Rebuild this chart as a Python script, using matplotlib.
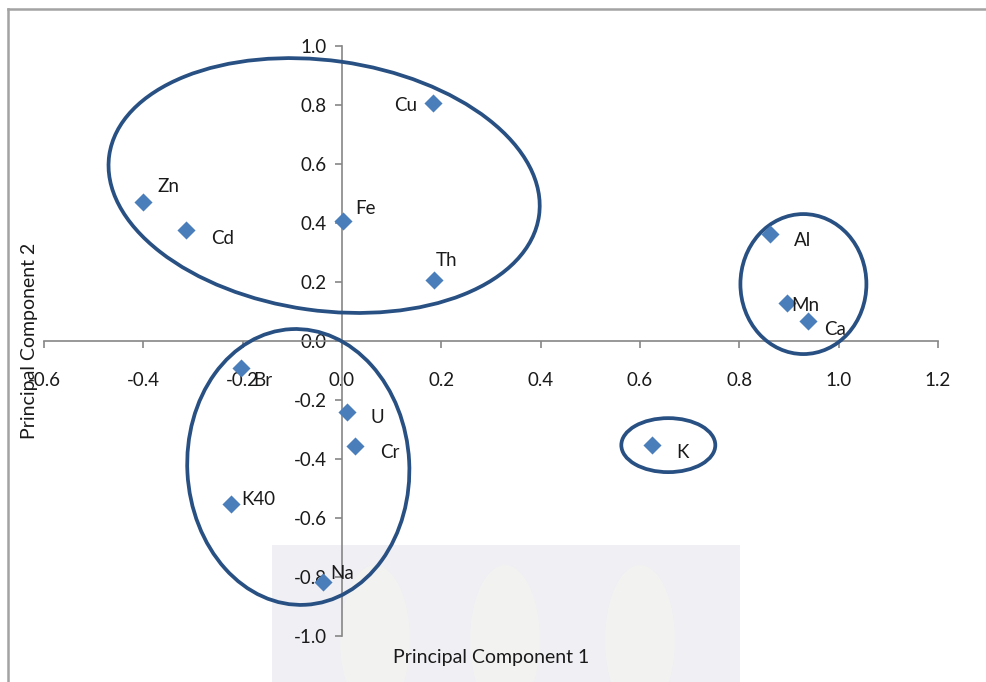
import matplotlib
matplotlib.use("Agg")
import matplotlib.pyplot as plt
from matplotlib.patches import Ellipse, Rectangle
from matplotlib.transforms import ScaledTranslation

plt.rcParams['font.family'] = ['Lato', 'DejaVu Sans']

# PCA loadings per element
elements = ["Cu", "Zn", "Cd", "Fe", "Th", "Al", "Mn", "Ca",
            "Br", "U", "Cr", "K", "K40", "Na"]
pc1 = [0.183, -0.400, -0.314, 0.002, 0.185, 0.862, 0.896, 0.939,
       -0.203, 0.010, 0.026, 0.625, -0.223, -0.038]
pc2 = [0.807, 0.471, 0.376, 0.407, 0.207, 0.363, 0.129, 0.068,
       -0.092, -0.241, -0.356, -0.353, -0.553, -0.817]

x_ticks = [-0.6, -0.4, -0.2, 0.0, 0.2, 0.4, 0.6, 0.8, 1.0, 1.2]
y_ticks = [-1.0, -0.8, -0.6, -0.4, -0.2, 0.0, 0.2, 0.4, 0.6, 0.8, 1.0]

# group outlines: centre (data units), size in inches, rotation in degrees
groups = [
    ((-0.036, 0.527), 4.34, 2.50, -8),
    ((-0.088, -0.427), 2.76, 2.22, 93),
    ((0.929, 0.193), 1.26, 1.40, 0),
    ((0.657, -0.353), 0.94, 0.54, 0),
]

# label offsets (points) from each marker
label_offsets = {
    "Cu": (-28, -2), "Zn": (10, 11), "Cd": (18, -6),
    "Fe": (9, 9), "Th": (1, 14), "Al": (17, -5),
    "Mn": (3, -2), "Ca": (11, -6), "Br": (9, -9),
    "U": (17, -4), "Cr": (18, -5), "K": (17, -5),
    "K40": (7, 3), "Na": (5, 6),
}

fig = plt.figure(figsize=(9.87, 6.82), dpi=100)
fig.patch.set_facecolor("white")

# faint backdrop in the lower middle
backdrop = Rectangle((272 / 987, 0), (740 - 272) / 987, (682 - 545) / 682,
                     transform=fig.transFigure, facecolor="#efeff4",
                     edgecolor="none", zorder=-2)
fig.add_artist(backdrop)
for cx in (375, 505, 640):
    leaf = Ellipse((cx / 987, (682 - 640) / 682), 70 / 987, 150 / 682,
                   transform=fig.transFigure, facecolor="#f2f2f1",
                   edgecolor="none", zorder=-1)
    fig.add_artist(leaf)

# frame lines along top and left edges
fig.add_artist(plt.Line2D([8 / 987, 1.0], [1 - 9 / 682, 1 - 9 / 682],
                          transform=fig.transFigure, color="#a3a3a3", lw=1.8))
fig.add_artist(plt.Line2D([8 / 987, 8 / 987], [0, 1 - 9 / 682],
                          transform=fig.transFigure, color="#a3a3a3", lw=1.8))

ax = fig.add_axes([44 / 987, 46 / 682, 894 / 987, 590 / 682])
ax.patch.set_alpha(0)
ax.set_zorder(1)
ax.set_xlim(-0.6, 1.2)
ax.set_ylim(-1.0, 1.0)

axis_col = "#868686"
for side in ["top", "right"]:
    ax.spines[side].set_visible(False)
ax.spines["left"].set_position(("data", 0.0))
ax.spines["bottom"].set_position(("data", 0.0))
ax.spines["left"].set_color(axis_col)
ax.spines["bottom"].set_color(axis_col)
ax.spines["left"].set_linewidth(1.2)
ax.spines["bottom"].set_linewidth(1.2)

ax.set_xticks(x_ticks)
ax.set_yticks(y_ticks)
ax.set_xticklabels([f"{v:.1f}" for v in x_ticks])
ax.set_yticklabels([f"{v:.1f}" for v in y_ticks])
ax.tick_params(axis="both", direction="out", length=5, width=1.2,
               color=axis_col, labelsize=13.5, labelcolor="#1a1a1a")
ax.tick_params(axis="x", pad=17)
ax.tick_params(axis="y", pad=6)

ax.scatter(pc1, pc2, marker="D", s=85, color="#4a7ebb", zorder=4, linewidths=0)

for name, x, y in zip(elements, pc1, pc2):
    dx, dy = label_offsets[name]
    ax.annotate(name, (x, y), xytext=(dx, dy), textcoords="offset points",
                ha="left", va="center", fontsize=13.5, color="#1a1a1a", zorder=5)

for (cx, cy), w, h, ang in groups:
    tr = fig.dpi_scale_trans + ScaledTranslation(cx, cy, ax.transData)
    ax.add_patch(Ellipse((0, 0), w, h, angle=ang, transform=tr, fill=False,
                         edgecolor="#285082", linewidth=2.7, zorder=3))

fig.text(491 / 987, 1 - 658 / 682, "Principal Component 1", ha="center",
         va="center", fontsize=14, color="#1a1a1a", zorder=2)
fig.text(30 / 987, 1 - 341 / 682, "Principal Component 2", ha="center",
         va="center", rotation=90, fontsize=14, color="#1a1a1a", zorder=2)

fig.savefig("out.png", dpi=100)
